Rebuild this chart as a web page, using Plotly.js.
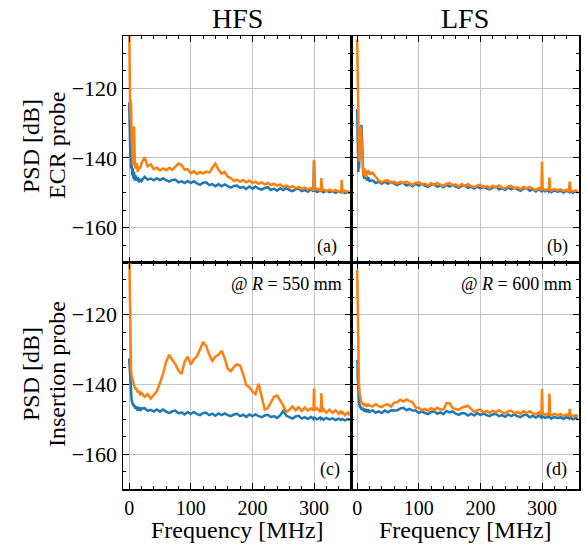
<!DOCTYPE html>
<html><head><meta charset="utf-8">
<script src="https://cdn.plot.ly/plotly-3.0.1.min.js"></script>
<style>html,body{margin:0;padding:0;background:#fff}</style>
</head><body><div id="chart" style="width:586px;height:544px"></div>
<script>
// Frequency grid [MHz]
const freq = [0,0.5,1,1.5,2,2.5,3,4,5,6,7,8,9,10,12,14,16,18,20,
25,30,35,40,45,50,55,60,65,70,75,80,85,90,95,100,105,110,115,120,125,130,135,140,145,150,155,160,165,170,175,180,185,190,195,200,205,210,215,220,225,230,235,240,245,250,255,260,265,270,275,280,285,290,295,
299,300,301,305,310,311,312,313,315,320,325,330,335,340,344,345,346,350,355,358];

// (a) HFS, ECR probe
const hfsEcrBlue = [-124,-130,-136,-133,-140,-138,-143,-141,-145,-143,-146,-144,-146.5,-145,-146.5,-145.5,-147,-146,-146.6,
-145.4,-146.2,-145.9,-146.4,-145.8,-146.4,-145.8,-146.4,-146.8,-146.3,-146.2,-147.0,-146.7,-147.2,-146.6,-147.2,-146.7,-147.3,-147.7,-147.1,
-147.0,-147.8,-147.5,-148.1,-147.5,-148.1,-147.6,-148.1,-148.5,-148.0,-147.9,-148.6,-148.3,-148.9,-148.2,-148.8,-148.2,-148.8,-149.1,-148.6,
-148.4,-149.2,-148.8,-149.4,-148.7,-149.2,-148.7,-149.2,-149.5,-149.0,-148.8,-149.5,-149.2,-149.7,-149.0,
-149.6,-140.8,-149.3,-149.8,-149.3,-149.7,-148.0,-149.5,-149.9,-149.4,-149.8,-149.5,-150.0,-149.5,-149.9,-148.3,-149.6,-150.1,-149.7,-150.1];
const hfsEcrOrange = [-100,-112,-121,-126,-123,-129,-124,-133,-139,-142,-140,-131,-140,-143,-141.5,-144,-142.5,-143,-141.5,
-139.8,-142.4,-141.8,-143.2,-142.8,-143.6,-143.0,-143.5,-142.8,-143.4,-142.5,-141.6,-142.0,-143.4,-143.2,-144.4,-143.8,-144.6,-144.0,-144.5,
-143.9,-144.2,-142.8,-141.6,-143.4,-144.5,-144.0,-145.4,-145.8,-146.6,-146.2,-146.8,-146.3,-147.0,-146.5,-147.2,-146.8,-147.4,-147.0,-147.6,
-147.2,-147.8,-147.4,-148.0,-147.6,-148.3,-147.9,-148.5,-148.1,-148.7,-148.3,-148.9,-148.5,-149.1,-148.7,
-149.2,-140.5,-149.0,-148.8,-149.3,-148.9,-145.8,-149.4,-149.0,-149.5,-149.1,-149.6,-149.2,-149.7,-149.3,-146.3,-149.8,-149.4,-149.9,-149.5];

// (b) LFS, ECR probe
const lfsEcrBlue = [-126,-132,-138,-141,-144,-140,-143,-138,-134,-131,-130.5,-135,-142,-145,-146,-144.5,-146.5,-145.5,-146.6,
-146.4,-147.2,-146.8,-147.4,-146.8,-147.4,-146.9,-147.4,-147.8,-147.3,-147.1,-147.9,-147.5,-148.1,-147.4,-148.0,-147.4,-148.0,-148.3,-147.7,
-147.6,-148.3,-147.9,-148.4,-147.7,-148.2,-147.7,-148.2,-148.6,-148.0,-147.9,-148.6,-148.3,-148.8,-148.2,-148.7,-148.2,-148.7,-149.0,-148.5,
-148.3,-149.0,-148.7,-149.2,-148.5,-149.0,-148.5,-149.0,-149.4,-148.8,-148.6,-149.4,-149.0,-149.6,-148.9,
-149.5,-148.6,-149.2,-149.6,-149.2,-149.6,-149.4,-149.4,-149.8,-149.3,-149.7,-149.4,-149.9,-149.4,-149.8,-147.8,-149.5,-150.0,-149.6,-150.0];
const lfsEcrOrange = [-106,-110,-118,-124,-128,-136,-141,-137,-133,-131,-134,-137,-143,-145,-143,-145.5,-144,-143.5,-144.5,
-144.2,-145.4,-146.5,-147.0,-146.5,-146.4,-147.2,-146.8,-147.4,-146.8,-147.3,-146.8,-147.3,-147.7,-147.1,-147.0,-147.7,-147.4,-147.9,-147.2,
-147.8,-147.2,-147.7,-148.0,-147.4,-147.2,-148.0,-147.6,-148.2,-147.5,-148.1,-147.5,-148.1,-148.4,-147.9,-147.7,-148.5,-148.1,-148.6,-148.0,
-148.5,-147.9,-148.5,-148.8,-148.2,-148.0,-148.8,-148.4,-149.0,-148.3,-148.8,-148.3,-148.8,-149.2,-148.6,
-149.2,-141.0,-148.8,-149.3,-148.9,-149.2,-145.6,-149.0,-149.4,-148.9,-149.3,-149.0,-149.5,-149.1,-149.5,-146.8,-149.2,-149.6,-149.3,-149.7];

// (c) HFS, insertion probe @ R = 550 mm
const hfsInsBlue = [-132.5,-134,-137,-139.5,-141,-142.5,-143.5,-144.5,-145,-146,-145.5,-146.5,-146,-147,-146.3,-147.5,-146.5,-147.6,-146.9,
-146.8,-147.6,-147.3,-147.8,-147.2,-147.8,-147.2,-147.8,-148.2,-147.7,-147.5,-148.3,-148.0,-148.6,-147.9,-148.5,-147.9,-148.5,-148.8,-148.2,
-148.1,-148.8,-148.4,-149.0,-148.3,-148.8,-148.3,-148.8,-149.1,-148.6,-148.4,-149.1,-148.7,-149.3,-148.6,-149.1,-148.6,-149.1,-149.4,-148.9,
-148.7,-149.4,-149.1,-149.6,-148.9,-147.6,-148.9,-149.4,-149.8,-149.2,-149.0,-149.8,-149.4,-149.9,-149.3,
-149.9,-149.3,-149.6,-150.0,-149.5,-149.9,-149.7,-149.7,-150.1,-149.6,-150.0,-149.7,-150.2,-149.8,-150.2,-149.9,-149.9,-150.3,-149.9,-150.3];
const hfsInsOrange = [-100,-108,-118,-126,-131,-134,-136,-137.5,-138.5,-139,-139.8,-140.3,-140.8,-141.2,-141.2,-142.3,-141.8,-142.8,-142.4,
-143.5,-142.8,-144.0,-143.0,-142.0,-139.5,-137.0,-133.5,-131.5,-133.0,-134.2,-136.0,-137.0,-133.5,-132.0,-134.3,-132.8,-132.0,-130.0,-127.8,
-129.0,-131.5,-133.2,-132.0,-131.5,-130.3,-132.5,-135.5,-136.2,-135.0,-134.2,-134.6,-137.0,-140.2,-140.8,-142.0,-142.8,-139.8,-143.5,-147.2,
-146.8,-145.0,-143.5,-143.2,-144.5,-146.0,-147.9,-147.3,-146.3,-147.4,-146.5,-147.6,-146.6,-147.5,-146.9,
-147.5,-141.2,-147.4,-146.8,-147.9,-147.0,-142.5,-147.8,-147.0,-148.1,-147.2,-148.2,-147.4,-148.4,-147.5,-148.5,-147.8,-148.8,-148.0,-148.9];

// (d) LFS, insertion probe @ R = 600 mm
const lfsInsBlue = [-134,-133,-138,-141,-143,-144.5,-145.3,-146,-146.8,-146.3,-147.3,-146.6,-147.5,-146.8,-147.8,-147,-148,-147.2,-147.9,
-147.4,-148.1,-147.7,-148.2,-147.5,-148.0,-147.4,-147.4,-147.5,-146.9,-146.7,-147.4,-147.0,-147.5,-147.5,-148.2,-147.7,-148.2,-148.5,-147.9,
-147.7,-148.4,-148.0,-148.5,-147.6,-148.0,-147.7,-148.4,-148.7,-148.2,-148.3,-148.9,-148.4,-148.9,-148.2,-148.8,-148.3,-148.8,-149.1,-148.6,
-148.4,-149.1,-148.8,-149.3,-148.6,-149.1,-148.6,-149.1,-149.4,-148.8,-148.7,-149.4,-149.0,-149.5,-148.9,
-149.5,-149.0,-149.2,-149.6,-149.2,-149.6,-149.3,-149.4,-149.8,-149.3,-149.7,-149.4,-149.9,-149.4,-149.8,-148.3,-149.5,-150.0,-149.6,-150.0];
const lfsInsOrange = [-107,-112,-122,-130,-133,-137,-140,-142.5,-144,-144.8,-145.5,-145,-146,-145.3,-146.2,-145.5,-146.4,-145.6,-146.1,
-146.3,-145.7,-146.2,-146.5,-145.9,-145.7,-146.4,-145.2,-145.1,-144.4,-144.9,-144.3,-144.8,-145.1,-146.6,-146.7,-147.4,-147.0,-147.5,-146.8,
-147.3,-146.7,-147.2,-147.2,-145.4,-145.4,-146.8,-147.0,-147.3,-146.6,-146.4,-146.1,-147.0,-147.9,-147.4,-147.2,-148.0,-147.6,-148.1,-147.5,
-148.0,-147.4,-148.0,-148.3,-147.7,-147.5,-148.3,-147.9,-148.4,-147.7,-148.2,-147.7,-148.3,-148.6,-148.0,
-148.6,-141.3,-148.3,-148.7,-148.3,-148.7,-142.6,-148.5,-148.9,-148.4,-148.8,-148.5,-149.0,-148.6,-149.0,-147.0,-148.7,-149.1,-148.8,-149.2];

const xTickVals = [0, 100, 200, 300];
const yTickVals = [-120, -140, -160];
const colBlue = '#1f77b4', colOrange = '#ff7f0e';
const FONT = "'Liberation Serif', 'Times New Roman', serif";

const panels = [
  {xa:'x',  ya:'y',  blue:hfsEcrBlue, orange:hfsEcrOrange},
  {xa:'x2', ya:'y2', blue:lfsEcrBlue, orange:lfsEcrOrange},
  {xa:'x3', ya:'y3', blue:hfsInsBlue, orange:hfsInsOrange},
  {xa:'x4', ya:'y4', blue:lfsInsBlue, orange:lfsInsOrange}
];
const data = [];
panels.forEach(p => {
  data.push({x:freq, y:p.blue, xaxis:p.xa, yaxis:p.ya, type:'scatter', mode:'lines',
    line:{color:colBlue, width:2.5}, showlegend:false, hoverinfo:'skip'});
  data.push({x:freq, y:p.orange, xaxis:p.xa, yaxis:p.ya, type:'scatter', mode:'lines',
    line:{color:colOrange, width:2.5}, showlegend:false, hoverinfo:'skip'});
});

function xAxis(domain, anchor, labels) {
  return {domain:domain, anchor:anchor, range:[-10,360], tickvals:xTickVals,
    ticks:'inside', ticklen:6, tickwidth:1, tickcolor:'#000',
    minor:{ticks:'inside', ticklen:3, tickcolor:'#000', dtick:20, tick0:0, showgrid:false},
    showline:true, linecolor:'#000', linewidth:1.5, mirror:'ticks',
    showgrid:true, gridcolor:'#c4c4c4', gridwidth:1, zeroline:false,
    showticklabels:labels, tickfont:{family:FONT, size:20, color:'#000'}};
}
function yAxis(domain, anchor, labels) {
  return {domain:domain, anchor:anchor, range:[-170,-105], tickvals:yTickVals,
    ticks:'inside', ticklen:6, tickwidth:1, tickcolor:'#000',
    minor:{ticks:'inside', ticklen:3, tickcolor:'#000', dtick:5, tick0:-170, showgrid:false},
    showline:true, linecolor:'#000', linewidth:1.5, mirror:'ticks',
    showgrid:true, gridcolor:'#c4c4c4', gridwidth:1, zeroline:false,
    showticklabels:labels, tickfont:{family:FONT, size:22, color:'#000'}};
}

const ann = (xref, yref, x, y, text, xanchor, yanchor, size, angle) => ({xref:xref, yref:yref, x:x, y:y, text:text,
  xanchor:xanchor, yanchor:yanchor, showarrow:false, textangle:angle || 0, borderpad:0,
  font:{family:FONT, size:size, color:'#000'}});

// paper coordinates: plot area spans x 123..579 px, y 36..489 px
const px = v => (v - 123) / 456;
const py = v => (489 - v) / 453;

const layout = {
  width:586, height:544, paper_bgcolor:'#fff', plot_bgcolor:'#fff',
  margin:{l:123, r:7, t:36, b:55}, showlegend:false,
  xaxis:xAxis([0,0.5],'y',false),
  yaxis:yAxis([0.5,1],'x',true),
  xaxis2:xAxis([0.5,1],'y2',false),
  yaxis2:yAxis([0.5,1],'x2',false),
  xaxis3:xAxis([0,0.5],'y3',true),
  yaxis3:yAxis([0,0.5],'x3',true),
  xaxis4:xAxis([0.5,1],'y4',true),
  yaxis4:yAxis([0,0.5],'x4',false),
  annotations:[
    ann('x domain','paper',0.5,1.003,'HFS','center','bottom',28),
    ann('x2 domain','paper',0.5,1.003,'LFS','center','bottom',28),
    ann('x3 domain','paper',0.5,py(530),'Frequency [MHz]','center','middle',24),
    ann('x4 domain','paper',0.5,py(530),'Frequency [MHz]','center','middle',24),
    ann('paper','paper',px(31),py(146),'PSD [dB]','center','middle',24,-90),
    ann('paper','paper',px(57),py(146),'ECR probe','center','middle',24,-90),
    ann('paper','paper',px(31),py(374),'PSD [dB]','center','middle',24,-90),
    ann('paper','paper',px(57),py(374),'Insertion probe','center','middle',24,-90),
    ann('x domain','y domain',0.945,0.07,'(a)','right','middle',18),
    ann('x2 domain','y2 domain',0.955,0.07,'(b)','right','middle',18),
    ann('x3 domain','y3 domain',0.955,0.085,'(c)','right','middle',18),
    ann('x4 domain','y4 domain',0.952,0.085,'(d)','right','middle',18),
    ann('x3 domain','y3 domain',0.965,0.907,'@ <i>R</i> = 550 mm','right','middle',18),
    ann('x4 domain','y4 domain',0.972,0.907,'@ <i>R</i> = 600 mm','right','middle',18)
  ]
};
Plotly.newPlot('chart', data, layout, {staticPlot:true, displayModeBar:false});
</script></body></html>
